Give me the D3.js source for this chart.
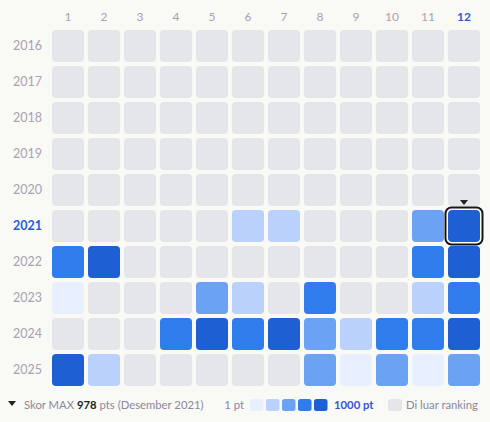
<!DOCTYPE html>
<html><head><meta charset="utf-8">
<script src="https://cdn.jsdelivr.net/npm/d3@7"></script>
<style>
html,body{margin:0;padding:0;background:#f9f9f6;}
svg{display:block;font-family:"Source Sans Pro",Lato,"Noto Sans",sans-serif;}
</style></head><body>
<svg id="c" width="490" height="422"></svg>
<script>
const years = [2016,2017,2018,2019,2020,2021,2022,2023,2024,2025];
const months = [1,2,3,4,5,6,7,8,9,10,11,12];
// points per month (null = outside ranking)
const pts2016 = [null,null,null,null,null,null,null,null,null,null,null,null];
const pts2017 = [null,null,null,null,null,null,null,null,null,null,null,null];
const pts2018 = [null,null,null,null,null,null,null,null,null,null,null,null];
const pts2019 = [null,null,null,null,null,null,null,null,null,null,null,null];
const pts2020 = [null,null,null,null,null,null,null,null,null,null,null,null];
const pts2021 = [null,null,null,null,null,310,290,null,null,null,520,978];
const pts2022 = [700,880,null,null,null,null,null,null,null,null,720,900];
const pts2023 = [90,null,null,null,480,330,null,690,null,null,280,710];
const pts2024 = [null,null,null,740,860,700,890,500,300,730,750,910];
const pts2025 = [870,320,null,null,null,null,null,530,110,460,120,470];
const seriesByYear = [pts2016,pts2017,pts2018,pts2019,pts2020,pts2021,pts2022,pts2023,pts2024,pts2025];
const levelColors = ["#e8efff","#bad2fb","#6ba2f3","#2f7cec","#1e5fd4"];
const emptyColor = "#e5e6ea";
const highlight = {year:2021, month:12};
const legendLeft = "Skor MAX ";
const legendMax = "978";
const legendRight = " pts (Desember 2021)";

const svg = d3.select("#c");
const x = d3.scaleBand().domain(months).range([50,482]).paddingInner(4/36).paddingOuter(2/36);
const y = d3.scaleBand().domain(years).range([28,388]).paddingInner(4/36).paddingOuter(2/36);
const color = d3.scaleQuantize().domain([1,1000]).range(levelColors);

const cells = [];
years.forEach((yr,i)=>months.forEach((m,j)=>cells.push({year:yr,month:m,v:seriesByYear[i][j]})));

svg.append("g").selectAll("rect").data(cells).join("rect")
  .attr("x",d=>x(d.month)).attr("y",d=>y(d.year))
  .attr("width",x.bandwidth()).attr("height",y.bandwidth())
  .attr("rx",4).attr("ry",4)
  .attr("fill",d=>d.v==null?emptyColor:color(d.v));

// column labels
svg.append("g").selectAll("text").data(months).join("text")
  .attr("x",d=>x(d)+x.bandwidth()/2).attr("y",21)
  .attr("text-anchor","middle").attr("font-size",12)
  .attr("font-weight",d=>d===highlight.month?700:400)
  .attr("fill",d=>d===highlight.month?"#1e5fd4":"#a8a2b1")
  .text(d=>d);
// row labels
svg.append("g").selectAll("text").data(years).join("text")
  .attr("x",42).attr("y",d=>y(d)+y.bandwidth()/2+4)
  .attr("text-anchor","end").attr("font-size",12.5)
  .attr("font-weight",d=>d===highlight.year?700:400)
  .attr("fill",d=>d===highlight.year?"#1e5fd4":"#a8a2b1")
  .text(d=>d);

// highlight
const hx = x(highlight.month), hy = y(highlight.year), bw = x.bandwidth(), bh = y.bandwidth();
svg.append("rect").attr("x",hx-1).attr("y",hy-1).attr("width",bw+2).attr("height",bh+2)
  .attr("rx",5).attr("fill","none").attr("stroke","#ffffff").attr("stroke-width",1.5);
svg.append("rect").attr("x",hx-2.5).attr("y",hy-2.5).attr("width",bw+5).attr("height",bh+5)
  .attr("rx",6).attr("fill","none").attr("stroke","#161616").attr("stroke-width",2);
const cx = hx+bw/2;
svg.append("path").attr("d",`M${cx-4},${hy-10}L${cx+4},${hy-10}L${cx},${hy-5}Z`).attr("fill","#222");

// legend
const ly = 405;
const lfs = 11.3;
svg.append("path").attr("d",`M8,${ly-4}L16,${ly-4}L12,${ly+1}Z`).attr("fill","#222");
const t = svg.append("text").attr("x",24).attr("y",ly+4).attr("font-size",lfs).attr("fill","#8d879a");
t.append("tspan").text(legendLeft);
t.append("tspan").attr("font-weight",700).attr("fill","#222").text(legendMax);
t.append("tspan").text(legendRight);

svg.append("text").attr("x",244).attr("y",ly+4).attr("text-anchor","end").attr("font-size",lfs).attr("fill","#8d879a").text("1 pt");
svg.append("g").selectAll("rect").data(levelColors).join("rect")
  .attr("x",(d,i)=>250+i*16).attr("y",ly-6).attr("width",13.5).attr("height",12).attr("rx",2.5)
  .attr("fill",d=>d);
svg.append("text").attr("x",334).attr("y",ly+4).attr("font-size",lfs).attr("font-weight",700).attr("fill","#3656cf").text("1000 pt");
svg.append("rect").attr("x",388).attr("y",ly-6).attr("width",14).attr("height",12).attr("rx",2.5).attr("fill",emptyColor);
svg.append("text").attr("x",406).attr("y",ly+4).attr("font-size",lfs).attr("fill","#8d879a").text("Di luar ranking");
</script>
</body></html>
